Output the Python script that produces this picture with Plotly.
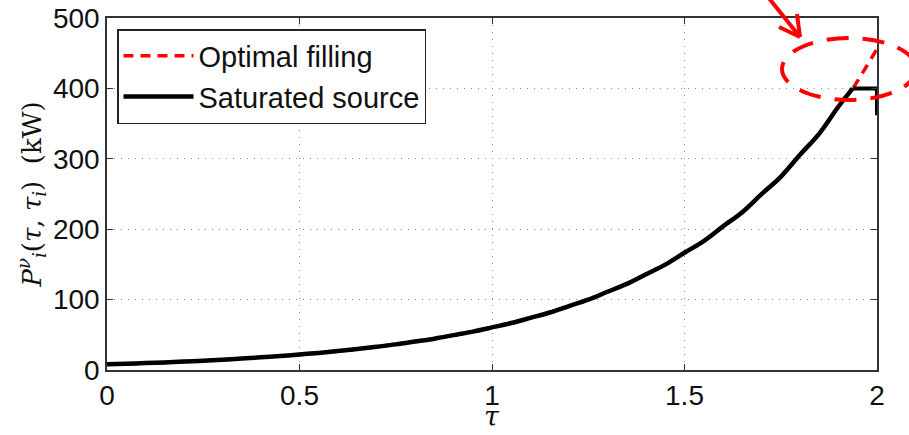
import plotly.graph_objects as go

# Data
tau = [0.0, 0.05, 0.1, 0.15, 0.2, 0.25, 0.3, 0.35, 0.4, 0.45, 0.5,
       0.55, 0.6, 0.65, 0.7, 0.75, 0.8, 0.85, 0.9, 0.95, 1.0,
       1.05, 1.1, 1.15, 1.2, 1.25, 1.3, 1.35, 1.4, 1.45, 1.5,
       1.55, 1.6, 1.65, 1.7, 1.75, 1.8, 1.85, 1.9, 1.937, 1.95, 2.0]
optimal = [8.0, 8.9, 9.8, 10.8, 12.0, 13.3, 14.7, 16.2, 18.0, 19.9, 22.0,
           24.3, 26.9, 29.7, 33.0, 36.4, 40.4, 44.5, 49.5, 54.5, 60.5,
           66.7, 74.1, 81.7, 90.8, 99.9, 111.1, 122.3, 136.1, 149.7, 166.6,
           183.2, 204.0, 224.2, 249.7, 274.4, 305.7, 335.8, 374.3, 400.0, 411.0, 456.0]
# saturated source: follows the curve up to the 400 kW cap, then flat, then drops at tau = 2
sat_curve_tau = tau[:40]
sat_curve = optimal[:40]
sat_cap_tau = [1.937, 2.0, 2.0]
sat_cap = [400.0, 400.0, 362.0]

x_ticks = [0, 0.5, 1, 1.5, 2]
x_tick_labels = ["0", "0.5", "1", "1.5", "2"]
y_ticks = [0, 100, 200, 300, 400, 500]
x_title = "<i>τ</i>"
y_title = "<i>P</i><sup><i>ν</i></sup><sub><i>i</i></sub>(<i>τ</i>, <i>τ</i><sub><i>i</i></sub>)  (kW)"

W, H = 909, 435
ml, mr, mt, mb = 107, 32, 18, 65
pw, ph = W - ml - mr, H - mt - mb

def px(x):
    return (x - ml) / pw

def py(y):
    return (H - mb - y) / ph

fig = go.Figure()
fig.add_trace(go.Scatter(x=tau, y=optimal, mode="lines", name="Optimal filling",
                         line=dict(color="#ff0000", width=3.5, dash="10px,7px", shape="spline")))
fig.add_trace(go.Scatter(x=sat_curve_tau, y=sat_curve, mode="lines", name="Saturated source",
                         legendgroup="sat",
                         line=dict(color="#000000", width=4.5, shape="spline")))
fig.add_trace(go.Scatter(x=sat_cap_tau, y=sat_cap, mode="lines", name="Saturated source",
                         legendgroup="sat", showlegend=False,
                         line=dict(color="#000000", width=4)))

axis_common = dict(showline=True, linecolor="#333333", linewidth=1.5, mirror="ticks",
                   ticks="inside", ticklen=6, tickcolor="#333333",
                   showgrid=True, gridcolor="#8a8a8a", griddash="1px,6px", gridwidth=1,
                   zeroline=False, automargin=False,
                   tickfont=dict(family="Liberation Sans, Arial, sans-serif", size=28, color="#111111"))

fig.update_xaxes(range=[0, 2], tickvals=x_ticks, ticktext=x_tick_labels, **axis_common)
fig.update_yaxes(range=[0, 500], tickvals=y_ticks,
                 title=dict(text=y_title,
                            font=dict(family="DejaVu Serif, serif", size=26, color="#111111"),
                            standoff=4),
                 **axis_common)

shapes = [
    # dashed ellipse highlight
    dict(type="circle", xref="paper", yref="paper",
         x0=px(782), x1=px(916), y0=py(100), y1=py(38),
         line=dict(color="#ff0000", width=4, dash="22px,14px")),
    # arrow shaft
    dict(type="line", xref="paper", yref="paper",
         x0=px(768), y0=py(-3), x1=px(800), y1=py(37),
         line=dict(color="#ff0000", width=4)),
    # arrow head
    dict(type="line", xref="paper", yref="paper",
         x0=px(800), y0=py(37), x1=px(779), y1=py(27),
         line=dict(color="#ff0000", width=4)),
    dict(type="line", xref="paper", yref="paper",
         x0=px(800), y0=py(37), x1=px(797), y1=py(14),
         line=dict(color="#ff0000", width=4)),
]

fig.update_layout(
    width=W, height=H,
    margin=dict(l=ml, r=mr, t=mt, b=mb, autoexpand=False),
    paper_bgcolor="white", plot_bgcolor="white",
    shapes=shapes,
    annotations=[dict(text=x_title, xref="paper", yref="paper", x=0.5, y=py(434),
                      xanchor="center", yanchor="bottom", showarrow=False,
                      font=dict(family="DejaVu Serif, serif", size=27, color="#111111"))],
    legend=dict(x=px(117), y=py(29), xanchor="left", yanchor="top",
                bgcolor="white", bordercolor="#222222", borderwidth=1.5,
                font=dict(family="Liberation Sans, Arial, sans-serif", size=29, color="#111111"),
                itemwidth=70, tracegroupgap=0),
    showlegend=True,
)

fig.write_html("out.html")
